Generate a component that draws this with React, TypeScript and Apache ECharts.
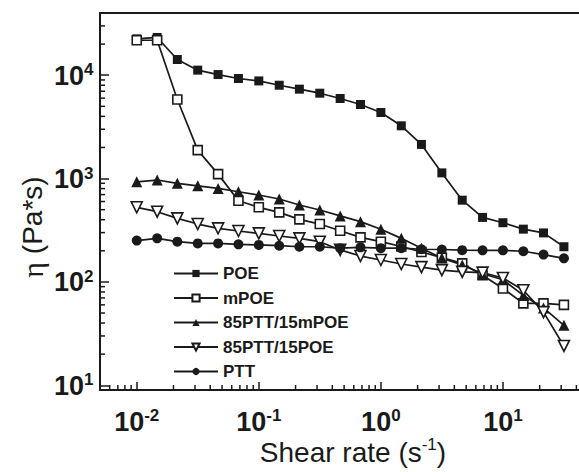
import React, { useEffect, useRef } from "react";
import * as echarts from "echarts";

// Shear rate (s^-1)
const shearRate = [
  0.01, 0.0147, 0.0215, 0.0316, 0.0464, 0.0681, 0.1, 0.147, 0.215, 0.316, 0.464,
  0.681, 1, 1.47, 2.15, 3.16, 4.64, 6.81, 10, 14.7, 21.5, 31.6,
];
// Viscosity (Pa*s)
const poe = [
  22500, 23200, 14200, 11200, 10150, 9290, 8810, 8000, 7330, 6700, 5950, 5210,
  4360, 3240, 2140, 1135, 618, 421, 374, 324, 298, 219,
];
const mpoe = [
  21800, 21800, 5820, 1885, 1104, 610, 527, 471, 403, 363, 313, 270, 245, 220,
  195, 172, 151, 116, 86.5, 62, 62, 60,
];
const ptt85mpoe15 = [
  931, 968, 899, 851, 803, 745, 693, 634, 555, 496, 435, 383, 323, 264, 212, 170,
  146, 120, 105, 74, 56, 38,
];
const ptt85poe15 = [
  527, 478, 412, 363, 330, 311, 295, 278, 264, 245, 204, 178, 163, 149, 139, 130,
  125, 123, 109, 83, 51, 24,
];
const ptt = [
  251, 264, 245, 236, 236, 231, 228, 224, 219, 219, 212, 216, 212, 212, 207, 206,
  203, 202, 202, 198, 184, 169,
];
const seriesNames = ["POE", "mPOE", "85PTT/15mPOE", "85PTT/15POE", "PTT"];

const X_MIN = 0.005;
const X_MAX = 42;
const Y_MIN = 9;
const Y_MAX = 40000;

const INK = "#1a1a1a";
const NARROW = "'Liberation Sans Narrow', 'Arial Narrow', 'Liberation Sans', Arial, sans-serif";
const SANS = "'Liberation Sans', Arial, Helvetica, sans-serif";

function minorValues(min: number, max: number): number[] {
  const out: number[] = [];
  for (let e = -4; e <= 6; e++) {
    for (let m = 2; m <= 9; m++) {
      const v = m * Math.pow(10, e);
      if (v > min * 1.0001 && v < max * 0.9999) out.push(v);
    }
  }
  return out;
}

function powLabel(v: number): string {
  const e = Math.log10(v);
  const r = Math.round(e);
  if (Math.abs(e - r) > 1e-6) return "";
  return `{b|10}{s|${r}}`;
}

const labelRich = {
  b: { fontSize: 27, fontWeight: "bold", fontFamily: NARROW, color: INK, lineHeight: 28, verticalAlign: "bottom" },
  s: { fontSize: 17, fontWeight: "bold", fontFamily: NARROW, color: INK, lineHeight: 16, verticalAlign: "top" },
};

export default function App() {
  const ref = useRef<HTMLDivElement>(null);

  useEffect(() => {
    if (!ref.current) return;
    const chart = echarts.init(ref.current, undefined, { renderer: "svg" });

    const mk = (
      name: string,
      data: number[],
      symbol: string,
      size: number,
      filled: boolean,
      rotate = 0
    ) => ({
      name,
      type: "line",
      data: shearRate.map((x, i) => [x, data[i]]),
      symbol,
      symbolSize: size,
      symbolRotate: rotate,
      showAllSymbol: true,
      lineStyle: { color: INK, width: 1.7 },
      itemStyle: filled
        ? { color: INK, borderColor: INK, borderWidth: 0 }
        : { color: "#ffffff", borderColor: INK, borderWidth: 1.6 },
      emphasis: { disabled: true },
      z: 3,
    });

    const xMinor = minorValues(X_MIN, X_MAX);
    const yMinor = minorValues(Y_MIN, Y_MAX);

    chart.setOption({
      animation: false,
      backgroundColor: "#ffffff",
      grid: { left: 100, top: 13, right: 0, bottom: 82, containLabel: false },
      xAxis: [
        {
          type: "log",
          logBase: 10,
          min: X_MIN,
          max: X_MAX,
          position: "bottom",
          axisLine: { show: true, lineStyle: { color: INK, width: 2 } },
          axisTick: { show: true, inside: true, length: 8, lineStyle: { color: INK, width: 1.5 } },
          minorTick: { show: false },
          splitLine: { show: false },
          axisLabel: {
            show: true,
            showMinLabel: false,
            showMaxLabel: false,
            margin: 17,
            formatter: powLabel,
            rich: labelRich,
          },
        },
        {
          type: "log",
          logBase: 10,
          min: X_MIN,
          max: X_MAX,
          position: "top",
          axisLine: { show: true, onZero: false, lineStyle: { color: INK, width: 2 } },
          axisTick: { show: false },
          axisLabel: { show: false },
          splitLine: { show: false },
        },
      ],
      yAxis: {
        type: "log",
        logBase: 10,
        min: Y_MIN,
        max: Y_MAX,
        axisLine: { show: true, lineStyle: { color: INK, width: 2 } },
        axisTick: { show: true, inside: true, length: 9, lineStyle: { color: INK, width: 1.5 } },
        minorTick: { show: false },
        splitLine: { show: false },
        axisLabel: {
          show: true,
          showMinLabel: false,
          showMaxLabel: false,
          align: "left",
          margin: 46,
          formatter: powLabel,
          rich: labelRich,
        },
      },
      legend: {
        orient: "vertical",
        left: 168,
        top: 260,
        itemWidth: 44,
        itemHeight: 9,
        itemGap: 7.5,
        data: seriesNames,
        selectedMode: false,
        textStyle: { fontSize: 17, lineHeight: 17, color: INK, fontFamily: SANS, fontWeight: "bold" },
      },
      graphic: [
        {
          type: "text",
          x: 353,
          y: 451,
          style: {
            text: "{t|Shear rate (s}{s|-1}{t|)}",
            align: "center",
            verticalAlign: "middle",
            rich: {
              t: { fontSize: 28, fontFamily: SANS, fill: INK, lineHeight: 30, verticalAlign: "bottom" },
              s: { fontSize: 17, fontFamily: SANS, fill: INK, lineHeight: 17, verticalAlign: "top" },
            },
          },
        },
        {
          type: "text",
          x: 32,
          y: 227,
          rotation: Math.PI / 2,
          style: {
            text: "{e|η}{t| (Pa*s)}",
            align: "center",
            verticalAlign: "middle",
            rich: {
              e: { fontSize: 30, fontFamily: "'Liberation Serif', 'DejaVu Serif', serif", fill: INK },
              t: { fontSize: 28, fontFamily: SANS, fill: INK },
            },
          },
        },
      ],
      series: [
        mk("POE", poe, "rect", 9, true),
        mk("mPOE", mpoe, "rect", 9, false),
        mk("85PTT/15mPOE", ptt85mpoe15, "triangle", 11, true),
        mk("85PTT/15POE", ptt85poe15, "triangle", 11, false, 180),
        mk("PTT", ptt, "circle", 10, true),
        {
          name: "xMinorTicks",
          type: "custom",
          silent: true,
          data: xMinor.map((v) => [v, Y_MIN]),
          encode: { x: 0, y: 1 },
          renderItem: (_p: any, api: any) => {
            const pt = api.coord([api.value(0), Y_MIN]);
            return {
              type: "line",
              shape: { x1: pt[0], y1: pt[1], x2: pt[0], y2: pt[1] - 5 },
              style: { stroke: INK, lineWidth: 1.5 },
            };
          },
          z: 2,
        },
        {
          name: "yMinorTicks",
          type: "custom",
          silent: true,
          data: yMinor.map((v) => [X_MIN, v]),
          encode: { x: 0, y: 1 },
          renderItem: (_p: any, api: any) => {
            const pt = api.coord([X_MIN, api.value(1)]);
            return {
              type: "line",
              shape: { x1: pt[0], y1: pt[1], x2: pt[0] + 5, y2: pt[1] },
              style: { stroke: INK, lineWidth: 1.5 },
            };
          },
          z: 2,
        },
      ],
    });

    return () => chart.dispose();
  }, []);

  return (
    <div
      ref={ref}
      style={{ position: "fixed", left: 0, top: 0, width: 579, height: 472, background: "#fff" }}
    />
  );
}
